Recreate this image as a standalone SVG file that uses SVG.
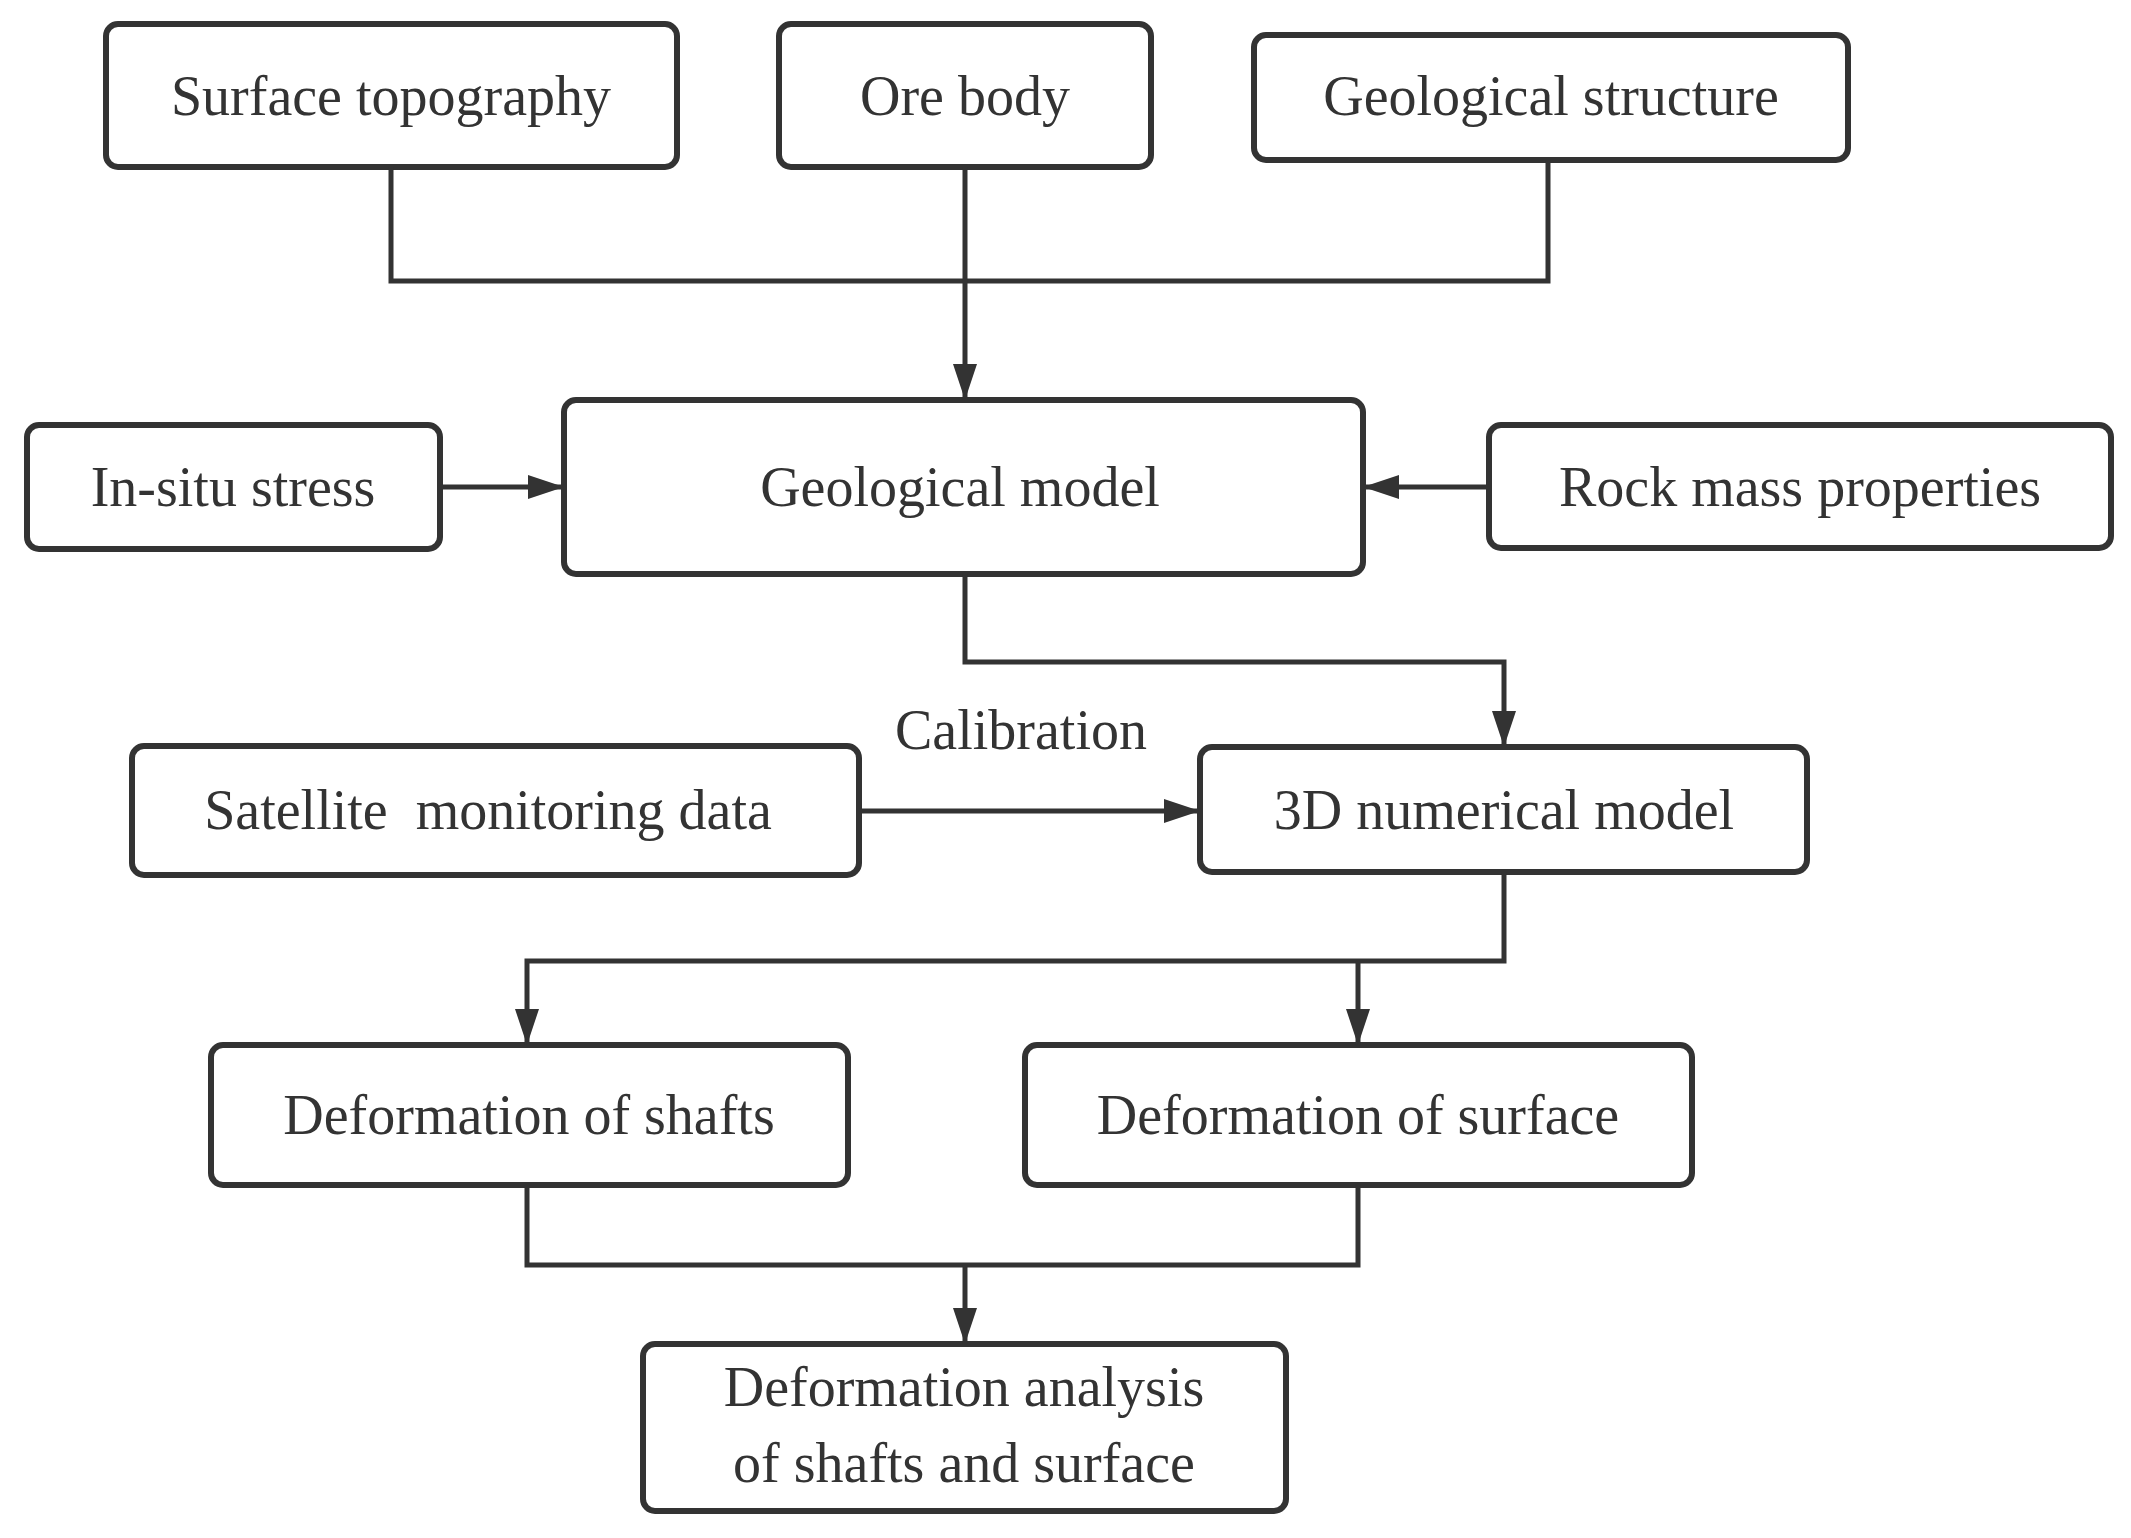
<svg xmlns="http://www.w3.org/2000/svg" width="2131" height="1538" viewBox="0 0 2131 1538">
<style>
.b{fill:#fff;stroke:#333;stroke-width:6}
.t{font-family:"Liberation Serif","Times New Roman",serif;font-size:56px;fill:#333;text-anchor:middle;dominant-baseline:central}
.c{fill:none;stroke:#333;stroke-width:5}
</style>
<defs><marker id="a" markerUnits="userSpaceOnUse" markerWidth="40" markerHeight="30" refX="38" refY="15" orient="auto"><path d="M2,3 L38,15 L2,27 Z" fill="#333"/></marker></defs>
<rect width="2131" height="1538" fill="#fff"/>
<g id="n1"><rect class="b" x="106" y="24" width="571" height="143" rx="12"/><text class="t" x="391" y="96">Surface topography</text></g>
<g id="n2"><rect class="b" x="779" y="24" width="372" height="143" rx="12"/><text class="t" x="965" y="96">Ore body</text></g>
<g id="n3"><rect class="b" x="1254" y="35" width="594" height="125" rx="12"/><text class="t" x="1551" y="96">Geological structure</text></g>
<g id="n4"><rect class="b" x="27" y="425" width="413" height="124" rx="12"/><text class="t" x="233" y="487">In-situ stress</text></g>
<g id="n5"><rect class="b" x="564" y="400" width="799" height="174" rx="12"/><text class="t" x="960" y="487">Geological model</text></g>
<g id="n6"><rect class="b" x="1489" y="425" width="622" height="123" rx="12"/><text class="t" x="1800" y="487">Rock mass properties</text></g>
<g id="n7"><rect class="b" x="132" y="746" width="727" height="129" rx="12"/><text class="t" x="488" y="810" xml:space="preserve">Satellite  monitoring data</text></g>
<g id="n8"><rect class="b" x="1200" y="747" width="607" height="125" rx="12"/><text class="t" x="1504" y="810">3D numerical model</text></g>
<g id="n9"><rect class="b" x="211" y="1045" width="637" height="140" rx="12"/><text class="t" x="529" y="1115">Deformation of shafts</text></g>
<g id="n10"><rect class="b" x="1025" y="1045" width="667" height="140" rx="12"/><text class="t" x="1358" y="1115">Deformation of surface</text></g>
<g id="n11"><rect class="b" x="643" y="1344" width="643" height="167" rx="12"/><text class="t" x="964" y="1387">Deformation analysis</text><text class="t" x="964" y="1463">of shafts and surface</text></g>
<g id="connectors">
<path class="c" d="M391,167 V281 H1548 V160"/>
<path class="c" d="M965,167 V400" marker-end="url(#a)"/>
<path class="c" d="M440,487 H564" marker-end="url(#a)"/>
<path class="c" d="M1489,487 H1363" marker-end="url(#a)"/>
<path class="c" d="M965,574 V662 H1504 V747" marker-end="url(#a)"/>
<path class="c" d="M859,811 H1200" marker-end="url(#a)"/>
<text class="t" x="1021" y="730">Calibration</text>
<path class="c" d="M1504,872 V961 H527 V1045" marker-end="url(#a)"/>
<path class="c" d="M1358,961 V1045" marker-end="url(#a)"/>
<path class="c" d="M527,1185 V1265 H1358 V1185"/>
<path class="c" d="M965,1265 V1344" marker-end="url(#a)"/>
</g>
</svg>
